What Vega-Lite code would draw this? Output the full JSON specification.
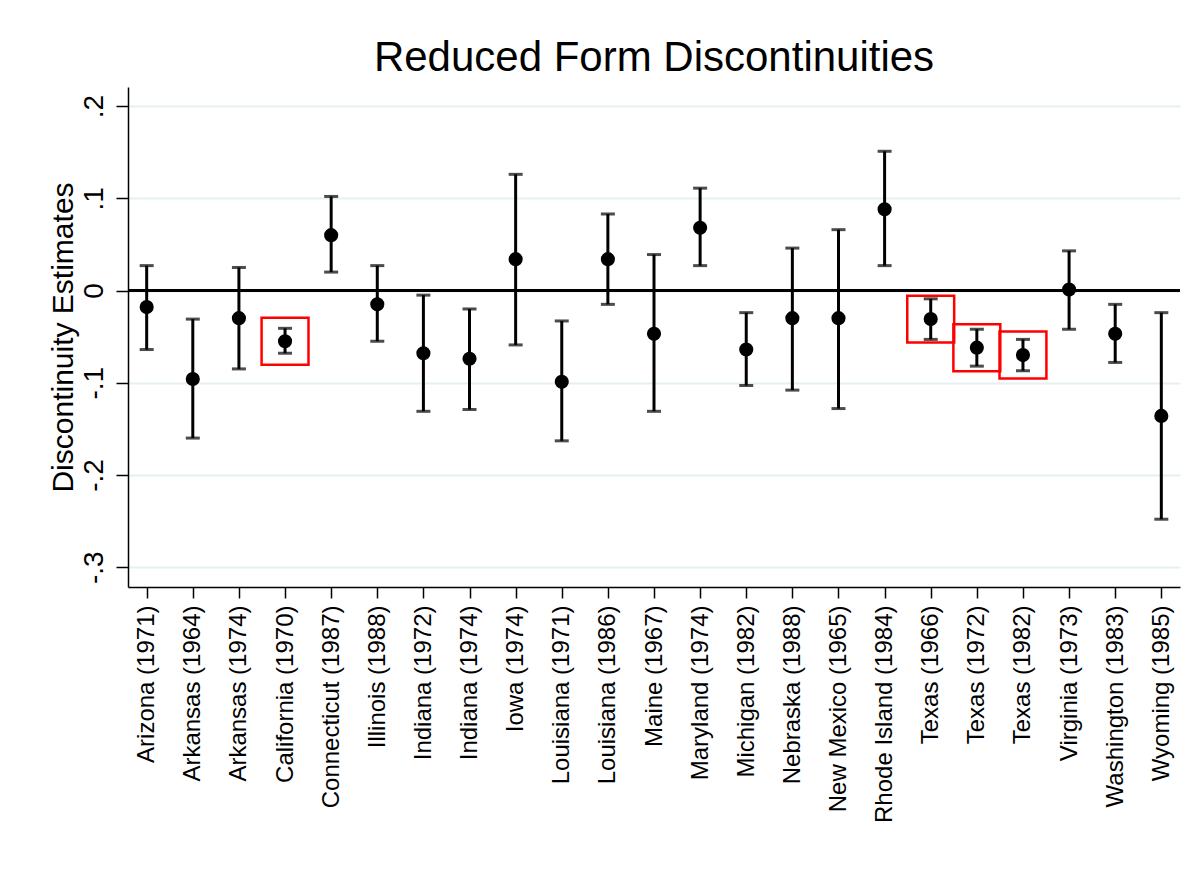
{
  "$schema": "https://vega.github.io/schema/vega-lite/v6.json",
  "autosize": {"type": "none"},
  "width": 1052,
  "height": 500,
  "padding": {"left": 128, "top": 87, "right": 16, "bottom": 286},
  "background": "white",
  "config": {
    "view": {"stroke": null},
    "font": "Liberation Sans",
    "axis": {"labelColor": "black", "titleColor": "black", "labelFont": "Liberation Sans", "titleFont": "Liberation Sans", "titleFontWeight": "normal"}
  },
  "title": {
    "text": "Reduced Form Discontinuities",
    "font": "Liberation Sans",
    "fontSize": 42,
    "fontWeight": "normal",
    "color": "black",
    "baseline": "alphabetic",
    "offset": -26
  },
  "data": {
    "values": [
      {"state": "Arizona (1971)", "est": -0.018, "hi": 0.027, "lo": -0.064, "highlight": false},
      {"state": "Arkansas (1964)", "est": -0.096, "hi": -0.031, "lo": -0.160, "highlight": false},
      {"state": "Arkansas (1974)", "est": -0.030, "hi": 0.025, "lo": -0.085, "highlight": false},
      {"state": "California (1970)", "est": -0.055, "hi": -0.041, "lo": -0.068, "highlight": true},
      {"state": "Connecticut (1987)", "est": 0.060, "hi": 0.102, "lo": 0.020, "highlight": false},
      {"state": "Illinois (1988)", "est": -0.015, "hi": 0.027, "lo": -0.055, "highlight": false},
      {"state": "Indiana (1972)", "est": -0.068, "hi": -0.005, "lo": -0.131, "highlight": false},
      {"state": "Indiana (1974)", "est": -0.074, "hi": -0.020, "lo": -0.129, "highlight": false},
      {"state": "Iowa (1974)", "est": 0.034, "hi": 0.126, "lo": -0.059, "highlight": false},
      {"state": "Louisiana (1971)", "est": -0.099, "hi": -0.033, "lo": -0.163, "highlight": false},
      {"state": "Louisiana (1986)", "est": 0.034, "hi": 0.083, "lo": -0.015, "highlight": false},
      {"state": "Maine (1967)", "est": -0.047, "hi": 0.039, "lo": -0.131, "highlight": false},
      {"state": "Maryland (1974)", "est": 0.068, "hi": 0.111, "lo": 0.027, "highlight": false},
      {"state": "Michigan (1982)", "est": -0.064, "hi": -0.024, "lo": -0.103, "highlight": false},
      {"state": "Nebraska (1988)", "est": -0.030, "hi": 0.046, "lo": -0.108, "highlight": false},
      {"state": "New Mexico (1965)", "est": -0.030, "hi": 0.066, "lo": -0.128, "highlight": false},
      {"state": "Rhode Island (1984)", "est": 0.088, "hi": 0.151, "lo": 0.027, "highlight": false},
      {"state": "Texas (1966)", "est": -0.031, "hi": -0.009, "lo": -0.053, "highlight": true},
      {"state": "Texas (1972)", "est": -0.062, "hi": -0.042, "lo": -0.082, "highlight": true},
      {"state": "Texas (1982)", "est": -0.070, "hi": -0.053, "lo": -0.087, "highlight": true},
      {"state": "Virginia (1973)", "est": 0.001, "hi": 0.043, "lo": -0.042, "highlight": false},
      {"state": "Washington (1983)", "est": -0.047, "hi": -0.015, "lo": -0.078, "highlight": false},
      {"state": "Wyoming (1985)", "est": -0.136, "hi": -0.024, "lo": -0.248, "highlight": false}
    ]
  },
  "encoding": {
    "x": {
      "field": "state",
      "type": "nominal",
      "sort": null,
      "scale": {"type": "point", "padding": 0.405},
      "axis": {
        "title": null,
        "labelAngle": -90,
        "labelAlign": "right",
        "labelBaseline": "middle",
        "labelFontSize": 24,
        "labelLimit": 0,
        "labelPadding": 7,
        "tickSize": 11,
        "tickColor": "black",
        "tickWidth": 1.5,
        "domainColor": "black",
        "domainWidth": 1.5,
        "grid": false,
        "labelOverlap": false
      }
    }
  },
  "layer": [
    {
      "mark": {"type": "rule", "color": "black", "strokeWidth": 3},
      "encoding": {
        "y": {
          "field": "lo",
          "type": "quantitative",
          "scale": {"domain": [-0.3215, 0.2207], "nice": false, "zero": false},
          "axis": {
            "title": "Discontinuity Estimates",
            "titleFontSize": 30,
            "titleAngle": -90,
            "titleBaseline": "alphabetic",
            "titlePadding": 8,
            "values": [-0.3, -0.2, -0.1, 0, 0.1, 0.2],
            "labelExpr": "replace(datum.value + '', '0.', '.')",
            "labelAngle": -90,
            "labelAlign": "center",
            "labelBaseline": "alphabetic",
            "labelFontSize": 28,
            "labelPadding": 14,
            "tickSize": 12,
            "tickColor": "black",
            "tickWidth": 1.5,
            "domainColor": "black",
            "domainWidth": 1.5,
            "grid": true,
            "gridColor": "#e6f0f2",
            "gridWidth": 2
          }
        },
        "y2": {"field": "hi"}
      }
    },
    {
      "mark": {"type": "tick", "color": "black", "thickness": 3, "size": 14},
      "encoding": {"y": {"field": "hi", "type": "quantitative"}}
    },
    {
      "mark": {"type": "tick", "color": "black", "thickness": 3, "size": 14},
      "encoding": {"y": {"field": "lo", "type": "quantitative"}}
    },
    {
      "mark": {"type": "rule", "color": "black", "strokeWidth": 2.5},
      "encoding": {"y": {"datum": 0, "type": "quantitative"}, "x": {"value": 0}, "x2": {"value": 1052}}
    },
    {
      "mark": {"type": "point", "shape": "circle", "filled": true, "color": "black", "size": 200, "opacity": 1},
      "encoding": {"y": {"field": "est", "type": "quantitative"}}
    },
    {
      "transform": [{"filter": "datum.highlight"}],
      "mark": {"type": "point", "shape": "square", "filled": false, "stroke": "#ff0000", "strokeWidth": 2.5, "size": 2200, "opacity": 1},
      "encoding": {"y": {"field": "est", "type": "quantitative"}}
    }
  ]
}
